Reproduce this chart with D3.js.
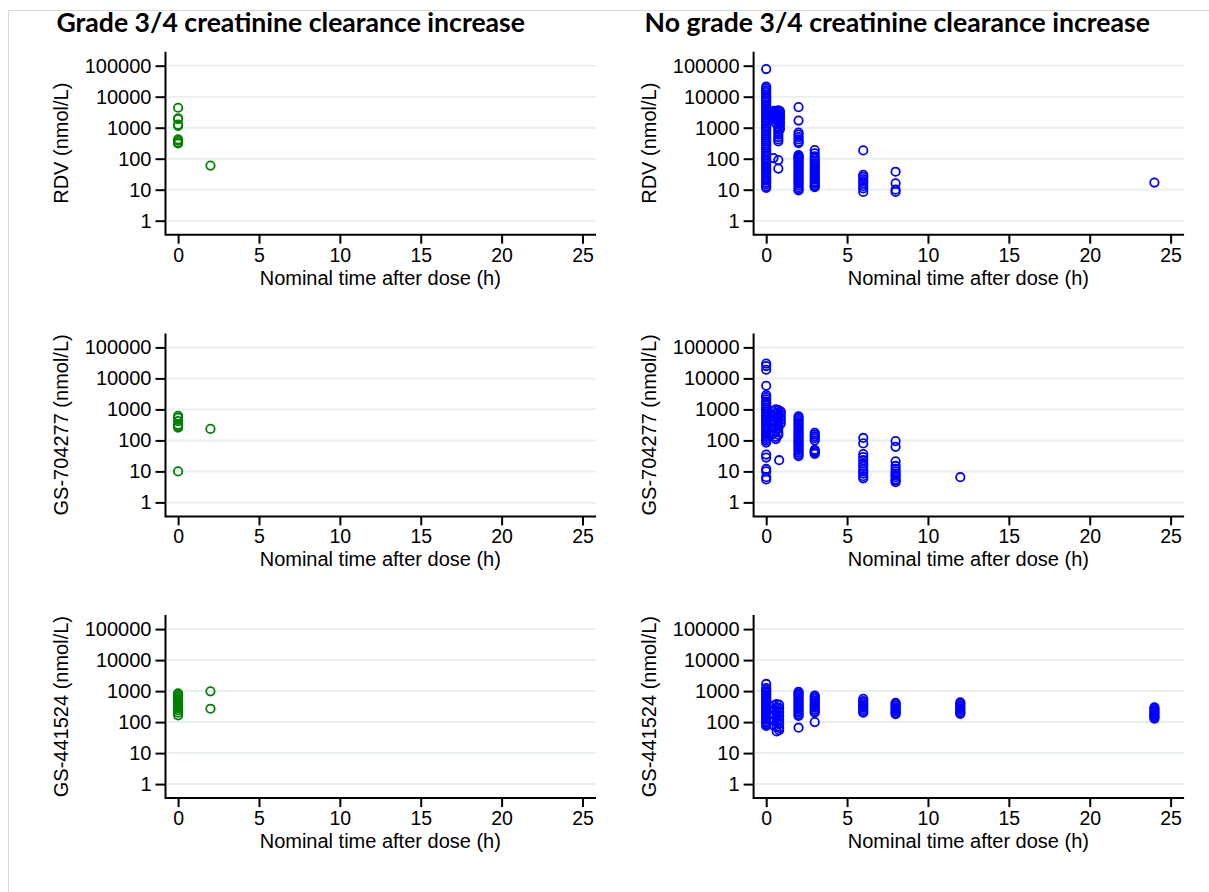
<!DOCTYPE html>
<html>
<head>
<meta charset="utf-8">
<script src="https://cdn.jsdelivr.net/npm/d3@7"></script>
<style>
body { margin: 0; background: #fff; }
text { font-family: "Liberation Sans", Arial, sans-serif; fill: #000; }
</style>
</head>
<body>
<script>
const columnTitles = ['Grade 3/4 creatinine clearance increase', 'No grade 3/4 creatinine clearance increase'];
const analytes = ['RDV', 'GS-704277', 'GS-441524'];
const xTicks = [0, 5, 10, 15, 20, 25];
const yTicks = [1, 10, 100, 1000, 10000, 100000];
const xTitle = 'Nominal time after dose (h)';

// [nominal time (h), [concentrations (nmol/L)]]
const rdvGrade = [
  [0, [4400, 2000, 1900, 1250, 1150, 420, 380, 330, 310]],
  [2, [60]]
];
const rdvNoGrade = [
  [0, [78000, 21000, 18500, 16000, 14000, 12000, 10000, 8800, 7600, 6600, 5700, 5000, 4300, 3700, 3200, 2800, 2400, 2100, 1800, 1550, 1350, 1150, 1000, 870, 750, 650, 560, 480, 420, 360, 310, 270, 230, 200, 170, 145, 125, 108, 93, 80, 68, 58, 50, 43, 37, 32, 27, 23, 20, 17, 15, 13, 11.5]],
  [0.3, [3300, 2600]],
  [0.45, [105]],
  [0.5, [3500, 3000, 2400, 2000]],
  [0.6, [3200, 2700, 2200, 1800, 1400]],
  [0.75, [3600, 3000, 2500, 2100, 1700, 1300, 1000, 850, 720, 600, 500, 420, 360, 90, 48]],
  [0.85, [3400, 2800, 2300, 1900, 1500, 1200, 900]],
  [2, [4600, 1700, 700, 600, 500, 420, 350, 320, 130, 120, 110, 100, 90, 80, 70, 62, 55, 48, 42, 37, 33, 29, 26, 23, 20, 18, 16, 14, 12, 10.5, 9.5]],
  [3, [190, 150, 120, 100, 85, 72, 62, 54, 47, 41, 36, 31, 27, 24, 21, 18, 16, 14, 13, 12]],
  [6, [185, 30, 26, 22, 19, 16, 13, 11, 8.5]],
  [8, [38, 16, 10, 8.5]],
  [24, [17]]
];
const gs704Grade = [
  [0, [620, 540, 420, 320, 290, 260, 10]],
  [2, [235]]
];
const gs704NoGrade = [
  [0, [30000, 25000, 19000, 5800, 2900, 2500, 2100, 1800, 1550, 1350, 1150, 1000, 870, 750, 650, 560, 480, 420, 360, 310, 270, 230, 200, 170, 150, 130, 112, 98, 85, 35, 28, 12, 10, 6.5, 5.5]],
  [0.4, [900, 600, 400, 250, 160]],
  [0.6, [1000, 750, 550, 380, 280, 200, 130, 110]],
  [0.75, [950, 800, 650, 500, 420, 340, 300, 240, 180, 150]],
  [0.8, [23]],
  [0.9, [850, 700, 560, 450, 350]],
  [2, [600, 520, 450, 390, 340, 300, 260, 225, 195, 170, 150, 130, 115, 100, 88, 78, 68, 60, 52, 46, 40, 35, 31]],
  [3, [175, 155, 135, 118, 100, 50, 46, 43, 40, 37]],
  [6, [120, 80, 36, 29, 23, 18, 15, 12, 10, 8.5, 7, 6]],
  [8, [95, 62, 21, 15, 12, 10, 8.5, 7.5, 6.5, 5.5, 5, 4.5]],
  [12, [6.5]]
];
const gs441Grade = [
  [0, [850, 760, 680, 600, 530, 470, 410, 360, 320, 280, 240, 200, 165]],
  [2, [980, 270]]
];
const gs441NoGrade = [
  [0, [1700, 1250, 1100, 980, 880, 790, 710, 640, 570, 510, 460, 410, 370, 330, 295, 265, 235, 210, 190, 170, 150, 135, 120, 105, 95, 85, 75]],
  [0.5, [350, 250, 170, 110, 75]],
  [0.65, [380, 300, 230, 180, 140, 100, 70, 50]],
  [0.8, [360, 280, 210, 160, 120, 90, 65, 55]],
  [2, [950, 860, 770, 690, 610, 540, 480, 420, 370, 330, 290, 255, 225, 200, 175, 158, 66]],
  [3, [720, 640, 560, 490, 430, 380, 330, 290, 255, 225, 200, 100]],
  [6, [560, 480, 420, 370, 330, 290, 255, 225, 200]],
  [8, [420, 380, 340, 300, 270, 245, 220, 195, 180]],
  [12, [430, 390, 350, 310, 280, 250, 225, 200, 185]],
  [24, [300, 270, 240, 215, 195, 175, 158, 143, 130]]
];

const panelData = [
  [rdvGrade, rdvNoGrade],
  [gs704Grade, gs704NoGrade],
  [gs441Grade, gs441NoGrade]
];
const colors = ['#008000', '#0000ff'];

const w = 1209;
const h = 892;

// panel placement
const colAxisX = [165.5, 753.6];
const rowTop = [65.7, 347.4, 629.1];
const axisW = 430.5;

const svg = d3
  .select('body')
  .append('svg')
  .attr('width', w)
  .attr('height', h);

// light outer frame
svg.append('path')
  .attr('d', `M8.5,${h} V10.5 H${w}`)
  .attr('fill', 'none')
  .attr('stroke', '#d9d9d9')
  .attr('stroke-width', 1);

const xScale = d3.scaleLinear().domain([0, 25]).range([12.6, 417]);
const yScale = d3.scaleLog().domain([1, 100000]).range([155, 0]);

columnTitles.forEach((t, c) => {
  svg.append('text')
    .attr('x', colAxisX[c] - 109)
    .attr('y', 32)
    .style('font-family', 'Lato, "Open Sans", sans-serif')
    .style('font-weight', 700)
    .style('font-size', '26.6px')
    .text(t);
});

panelData.forEach((row, r) => {
  row.forEach((series, c) => {
    const g = svg.append('g')
      .attr('transform', `translate(${colAxisX[c]},${rowTop[r]})`);

    // gridlines
    g.selectAll('.grid')
      .data(yTicks)
      .enter()
      .append('line')
      .attr('x1', 2)
      .attr('x2', axisW)
      .attr('y1', d => yScale(d))
      .attr('y2', d => yScale(d))
      .attr('stroke', '#e8eff1')
      .attr('stroke-width', 2);

    // y axis
    const yAxis = g.append('g')
      .call(d3.axisLeft(yScale).tickValues(yTicks).tickFormat(d3.format('d')).tickSize(10).tickPadding(4));
    yAxis.select('.domain').remove();
    yAxis.selectAll('.tick line').attr('stroke-width', 2);
    yAxis.selectAll('.tick text').style('font-size', '20px').attr('font-family', null);

    // x axis
    const xAxis = g.append('g')
      .attr('transform', `translate(0,${169})`)
      .call(d3.axisBottom(xScale).tickValues(xTicks).tickSize(9).tickPadding(4));
    xAxis.select('.domain').remove();
    xAxis.selectAll('.tick line').attr('stroke-width', 2);
    xAxis.selectAll('.tick text').style('font-size', '19.5px').attr('font-family', null);

    // axis lines
    g.append('path')
      .attr('d', `M0,-14 V169 H${axisW}`)
      .attr('fill', 'none')
      .attr('stroke', '#000')
      .attr('stroke-width', 2);

    // axis titles
    g.append('text')
      .attr('transform', `translate(-97.5,${yScale(316)}) rotate(-90)`)
      .attr('text-anchor', 'middle')
      .style('font-size', '20px')
      .text(analytes[r] + ' (nmol/L)');

    g.append('text')
      .attr('x', (xScale(0) + xScale(25)) / 2)
      .attr('y', 219)
      .attr('text-anchor', 'middle')
      .style('font-size', '20px')
      .text(xTitle);

    // points
    const pts = series.flatMap(([t, vals]) => vals.map(v => ({ t, v })));
    g.selectAll('circle')
      .data(pts)
      .enter()
      .append('circle')
      .attr('cx', d => xScale(d.t))
      .attr('cy', d => yScale(d.v))
      .attr('r', 4.2)
      .attr('fill', 'none')
      .attr('stroke', colors[c])
      .attr('stroke-width', 1.8);
  });
});
</script>
</body>
</html>
